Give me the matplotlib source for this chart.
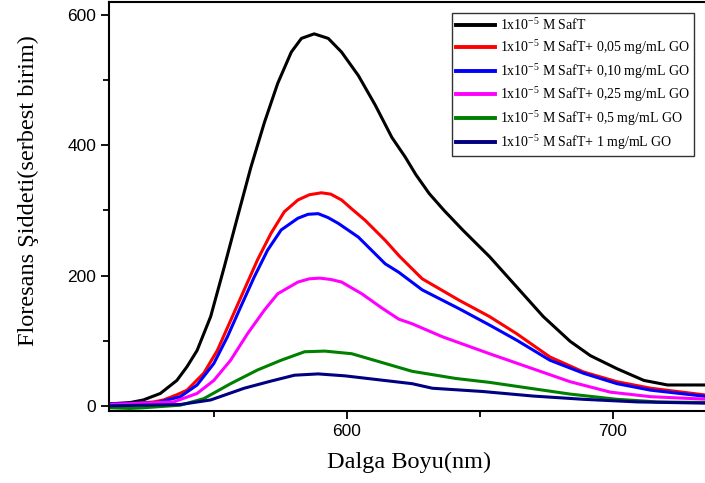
import numpy as np
import matplotlib.pyplot as plt
from matplotlib.ticker import MultipleLocator

# wavelength (nm) / intensity pairs
x_saft = [511, 518.6, 523.6, 530, 536.2, 540, 543.8, 548.9, 554, 559, 564, 569.1, 574.1,
          579.2, 583, 587.8, 593.1, 598.1, 604.4, 610.7, 617, 622, 626, 631, 636.6,
          643.6, 653.7, 663.8, 673.9, 684, 691.6, 701.6, 711.7, 720.6, 736]
y_saft = [3, 5, 9, 19, 39, 60, 85, 137, 213, 290, 366, 435, 495,
          543, 564, 571, 564, 543, 507, 462, 412, 382, 355, 326, 300,
          270, 229, 183, 137, 99, 77, 57, 39, 32, 32]

x_005 = [511, 518.6, 527.5, 531.2, 536.2, 540, 546.3, 551.4, 556.4, 561.5, 566.5, 571.6,
         576.6, 581.7, 586, 590.5, 594, 598.1, 602, 606.9, 614.5, 620, 628.4, 642.3,
         653.7, 663.8, 676.4, 689, 701.6, 714.3, 736]
y_005 = [3, 3, 6, 9, 17, 24, 50, 85, 131, 178, 224, 265,
         298, 316, 324, 327, 325, 316, 302, 285, 254, 229, 195, 162,
         137, 111, 75, 52, 37, 27, 16]

x_010 = [511, 528.7, 537.5, 543.8, 550.1, 555.2, 560.2, 565.3, 570.3, 575.4, 581.7, 585.5,
         589.3, 593, 596.9, 604.4, 614.5, 619.6, 628.4, 642.3, 653.7, 663.8, 676.4, 689,
         701.6, 714.3, 736]
y_010 = [3, 5, 14, 32, 65, 106, 152, 198, 239, 270, 288, 294,
         295, 289, 280, 259, 218, 205, 178, 149, 124, 101, 70, 50,
         34, 24, 14]

x_025 = [511, 535, 543.8, 550.1, 556.4, 562.8, 569.1, 574.1, 581.7, 586, 589.9, 594,
         598.1, 605.7, 613.3, 619.6, 624.6, 636, 653.7, 671.3, 684, 699.1, 714.3, 736]
y_025 = [2, 6, 19, 39, 70, 111, 147, 172, 190, 195, 196, 194,
         190, 172, 150, 133, 126, 106, 80, 55, 37, 21, 14, 10]

x_05 = [511, 518.6, 523.6, 537.5, 546.3, 556.4, 566.5, 575.4, 584.2, 591.8, 601.9, 612,
        624.6, 641, 653.7, 668.8, 684, 701.6, 716.8, 736]
y_05 = [-3, -4, -3, 1, 11, 34, 55, 70, 83, 84, 80, 68,
        53, 42, 36, 27, 18, 10, 6, 5]

x_1 = [511, 537.5, 548.9, 561.5, 571.6, 580.4, 589.3, 599.4, 612, 624.6, 632.2, 651.1,
       670.1, 689, 709.2, 736]
y_1 = [0, 2, 9, 27, 38, 47, 49, 46, 40, 34, 27, 22,
       15, 10, 6, 4]

labels = ['1x10$^{-5}$ M SafT',
          '1x10$^{-5}$ M SafT+ 0,05 mg/mL GO',
          '1x10$^{-5}$ M SafT+ 0,10 mg/mL GO',
          '1x10$^{-5}$ M SafT+ 0,25 mg/mL GO',
          '1x10$^{-5}$ M SafT+ 0,5 mg/mL GO',
          '1x10$^{-5}$ M SafT+ 1 mg/mL GO']
colors = ['black', 'red', 'blue', 'magenta', 'green', 'navy']

series = [(x_saft, y_saft), (x_005, y_005), (x_010, y_010),
          (x_025, y_025), (x_05, y_05), (x_1, y_1)]

plt.rcParams['mathtext.fontset'] = 'custom'
plt.rcParams['mathtext.rm'] = 'Liberation Serif'
plt.rcParams['mathtext.it'] = 'Liberation Serif:italic'

fig = plt.figure(figsize=(7.05, 4.83), dpi=100)
ax = fig.add_axes([0.155, 0.149, 0.85, 0.847])

for (xs, ys), c, lab in zip(series, colors, labels):
    ax.plot(xs, ys, color=c, linewidth=2.2, label=lab, solid_joinstyle='round')

ax.set_xlim(510.8, 736)
ax.set_ylim(-8, 620)
ax.xaxis.set_major_locator(MultipleLocator(100))
ax.xaxis.set_minor_locator(MultipleLocator(50))
ax.yaxis.set_major_locator(MultipleLocator(200))
ax.yaxis.set_minor_locator(MultipleLocator(100))
ax.tick_params(which='major', direction='out', length=6, width=1.3,
               labelsize=12.5, top=False, right=False)
ax.tick_params(which='minor', direction='out', length=4, width=1.3,
               top=False, right=False)
for lbl in ax.get_xticklabels() + ax.get_yticklabels():
    lbl.set_fontfamily('Liberation Sans')
for s in ['left', 'bottom', 'top']:
    ax.spines[s].set_linewidth(1.5)
ax.spines['right'].set_visible(False)

ax.set_xlabel('Dalga Boyu(nm)', fontsize=17.5, family='Liberation Serif', labelpad=9)
ax.set_ylabel('Floresans Şiddeti(serbest birim)', fontsize=17.5,
              family='Liberation Serif')
ax.yaxis.set_label_coords(-0.118, 0.54)

leg = ax.legend(loc='upper right', bbox_to_anchor=(0.976, 0.973), borderaxespad=0,
                prop={'family': 'Liberation Serif', 'size': 10},
                frameon=True, fancybox=False, edgecolor='black',
                handlelength=2.8, handletextpad=0.4, labelspacing=0.35,
                borderpad=0.3)
leg.get_frame().set_linewidth(1.0)
for line in leg.get_lines():
    line.set_linewidth(2.8)

fig.savefig('out.png', dpi=100)
